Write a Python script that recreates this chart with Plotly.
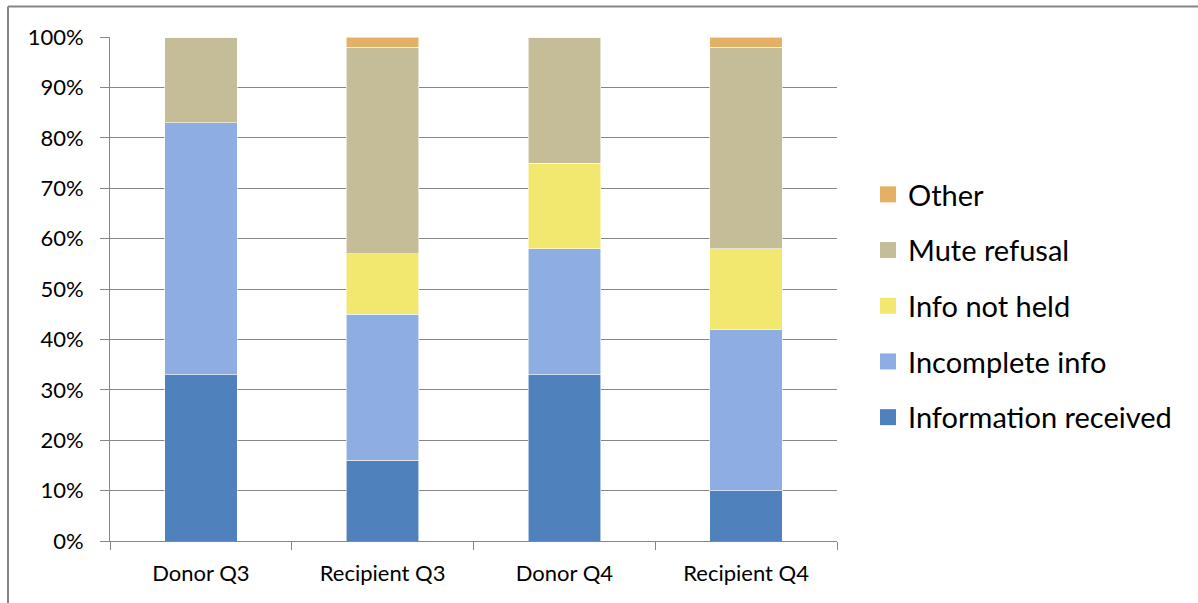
import plotly.graph_objects as go

# Categories and shares (fraction of responses) per outcome
categories = ["Donor Q3", "Recipient Q3", "Donor Q4", "Recipient Q4"]
info_received = [0.33, 0.16, 0.33, 0.10]
incomplete_info = [0.50, 0.29, 0.25, 0.32]
info_not_held = [0.00, 0.12, 0.17, 0.16]
mute_refusal = [0.17, 0.41, 0.25, 0.40]
other = [0.00, 0.02, 0.00, 0.02]

series = [
    ("Information received", info_received, "#4F81BD"),
    ("Incomplete info", incomplete_info, "#8EAEE3"),
    ("Info not held", info_not_held, "#F3E86F"),
    ("Mute refusal", mute_refusal, "#C4BD97"),
    ("Other", other, "#E6B064"),
]

FONT = "Lato, 'Open Sans', sans-serif"

fig = go.Figure()
n = len(series)
for i, (name, vals, color) in enumerate(series):
    fig.add_trace(go.Bar(
        x=categories, y=vals, name=name,
        legendgroup=f"g{i}", showlegend=False,
        marker=dict(color=color, line=dict(color="rgba(255,255,255,0.7)", width=0.8)),
        hovertemplate="%{x}<br>" + name + ": %{y:.0%}<extra></extra>",
    ))
    # legend key: larger square swatch than the default bar symbol
    fig.add_trace(go.Scatter(
        x=[None], y=[None], mode="markers", name=name,
        legendgroup=f"g{i}", legendrank=n - i,
        marker=dict(symbol="square", size=16, color=color),
        hoverinfo="skip",
    ))

W, H = 1198, 603
L, R, T, B = 110, 837, 37, 541
pw, ph = R - L, B - T

def px_x(p):
    return (p - L) / pw

def px_y(p):
    return (B - p) / ph

frame = dict(color="#868686", width=2)

fig.update_layout(
    width=W, height=H,
    barmode="stack",
    bargap=0.6,
    margin=dict(l=L, r=W - R, t=T, b=H - B),
    plot_bgcolor="white",
    paper_bgcolor="white",
    font=dict(family=FONT, color="#000000"),
    legend=dict(
        x=px_x(868), xanchor="left",
        y=px_y(306), yanchor="middle",
        traceorder="grouped",
        tracegroupgap=15,
        font=dict(size=29, family=FONT, color="#000000"),
        itemwidth=30,
        bgcolor="rgba(0,0,0,0)",
    ),
    xaxis=dict(
        showline=True, linecolor="#868686", linewidth=1,
        ticks="outside", ticklen=8, tickcolor="#868686",
        tickson="boundaries",
        tickfont=dict(size=22, family=FONT, color="#000000"),
        ticklabelstandoff=13,
        showgrid=False,
    ),
    yaxis=dict(
        range=[0, 1], dtick=0.1, tickformat=".0%",
        showline=True, linecolor="#868686", linewidth=1,
        ticks="outside", ticklen=9, tickcolor="#868686",
        showgrid=True, gridcolor="#868686", gridwidth=1,
        tickfont=dict(size=22, family=FONT, color="#000000"),
        ticklabelstandoff=12,
        zeroline=False,
    ),
    shapes=[
        # chart frame: top and left edges
        dict(type="line", xref="paper", yref="paper",
             x0=px_x(8), x1=px_x(1200), y0=px_y(6.5), y1=px_y(6.5), line=frame),
        dict(type="line", xref="paper", yref="paper",
             x0=px_x(8), x1=px_x(8), y0=px_y(6.5), y1=px_y(610), line=frame),
    ],
)

fig.write_html("out.html")
